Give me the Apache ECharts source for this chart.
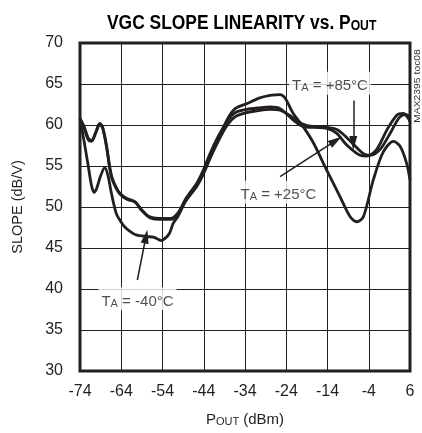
<!DOCTYPE html>
<html><head><meta charset="utf-8">
<script src="https://cdn.jsdelivr.net/npm/echarts@6/dist/echarts.min.js"></script>
<style>html,body{margin:0;padding:0;background:#fff}#c{width:422px;height:433px}</style>
</head><body><div id="c"></div>
<script>
// ---- data ----
const xTicks = [-74, -64, -54, -44, -34, -24, -14, -4, 6];
const yTicks = [30, 35, 40, 45, 50, 55, 60, 65, 70];

const pout25 = [-74, -73, -72, -71.2, -70.2, -69.2, -68.5, -67.6, -66.4, -64.8, -63.5, -62.4, -60.6, -59.1, -57.1, -55, -52, -50.2, -48.5, -45.7, -44.1, -42.5, -40.5, -38.4, -36.4, -33.6, -30.4, -27.9, -25.5, -22.3, -19.9, -17, -14.2, -11.8, -9.4, -6.1, -4.5, -2.1, 0.4, 2.8, 4.4, 5.6, 6];
const slope25 = [60.7, 59.6, 58.2, 58.0, 59.0, 60.1, 59.6, 57.4, 53.7, 51.9, 51.2, 50.9, 50.6, 49.6, 48.7, 48.5, 48.5, 49.2, 50.9, 52.9, 54.5, 56.5, 58.6, 60.4, 61.5, 61.9, 62.1, 62.2, 62.0, 60.6, 59.8, 59.7, 59.6, 59.0, 57.6, 56.3, 56.2, 57.0, 59.4, 61.2, 61.4, 60.8, 60.4];

const pout85 = [-74, -73, -72, -71.2, -70.2, -69.2, -68.5, -67.6, -66.4, -64.8, -63.5, -62.4, -60.6, -59.1, -57.1, -55, -52, -50.2, -48.5, -45.7, -44.1, -42.5, -40.5, -38.4, -36.4, -33.6, -30.4, -27.9, -25.5, -22.3, -19.9, -17, -14.2, -11.5, -9, -5.3, -3.7, -1.3, 1.2, 3.4, 5, 6];
const slope85 = [60.8, 59.8, 58.4, 58.1, 59.1, 60.2, 59.7, 57.6, 53.9, 52.0, 51.3, 51.0, 50.6, 49.7, 48.8, 48.6, 48.6, 49.3, 50.7, 52.5, 54.0, 55.9, 58.0, 59.9, 61.0, 61.5, 61.8, 61.9, 61.8, 60.9, 60.1, 59.8, 59.7, 59.4, 58.3, 56.5, 56.3, 57.0, 59.0, 60.9, 61.3, 61.0];

const poutM40 = [-74, -73, -72, -71.2, -70.6, -70, -69, -68, -67.2, -66.4, -65.2, -64.2, -63.2, -61.8, -60.4, -57.9, -56, -54.3, -53.3, -52.3, -51.4, -50.2, -48.5, -46, -44.1, -42.5, -40.5, -38.4, -36.4, -33.6, -30.4, -27.9, -25.5, -24.3, -22.3, -19.9, -17.4, -14.2, -11, -8.5, -6.9, -5.3, -2.9, -0.5, 2, 3.6, 5.2, 6];
const slopeM40 = [60.8, 58.0, 55.0, 52.6, 51.8, 52.2, 53.8, 54.8, 53.8, 51.7, 49.2, 48.3, 47.6, 47.0, 46.6, 46.4, 46.3, 45.9, 46.2, 46.8, 48.0, 48.9, 50.6, 52.4, 54.2, 56.0, 58.2, 60.6, 62.0, 62.6, 63.3, 63.6, 63.7, 63.3, 61.4, 59.8, 57.8, 54.5, 51.3, 48.8, 48.2, 48.8, 53.3, 56.7, 58.0, 57.4, 55.3, 53.3];

// annotation texts
const labelM40 = '-40°C';
const label25 = '+25°C';
const label85 = '+85°C';

// ---- chart ----
const FONT = '"Liberation Sans",Arial,sans-serif';
const INK = '#231f20';
const pairs = (xs, ys) => xs.map((x, i) => [x, ys[i]]);

const tRich = {
  t: {fontFamily: FONT, fontSize: 15, color: INK, lineHeight: 19, verticalAlign: 'bottom'},
  s: {fontFamily: FONT, fontSize: 11, color: INK, lineHeight: 13, verticalAlign: 'bottom'}
};
const taText = (temp) => '{t|T}{s|A}{t| = ' + temp + '}';

function curve(name, xs, ys) {
  return {
    name, type: 'line', data: pairs(xs, ys), showSymbol: false, symbol: 'none',
    smooth: 0.3, lineStyle: {color: INK, width: 2.8}, z: 3, silent: true
  };
}

const arrowLine = (from, to) => [{coord: from, symbol: 'none'}, {coord: to, symbol: 'triangle', symbolSize: [8, 14]}];

const option = {
  backgroundColor: '#fff',
  animation: false,
  grid: {left: 80, right: 12, top: 43, bottom: 62, show: true, borderColor: INK, borderWidth: 3, backgroundColor: 'transparent'},
  xAxis: {
    type: 'value', min: xTicks[0], max: xTicks[xTicks.length - 1], interval: 10,
    axisLine: {show: false}, axisTick: {show: false},
    splitLine: {show: true, lineStyle: {color: INK, width: 1}},
    axisLabel: {fontFamily: FONT, fontSize: 16, color: INK, margin: 13},
    name: '{t|P}{s|OUT}{t| (dBm)}', nameLocation: 'middle', nameGap: 37,
    nameTextStyle: {rich: tRich}
  },
  yAxis: {
    type: 'value', min: yTicks[0], max: yTicks[yTicks.length - 1], interval: 5,
    axisLine: {show: false}, axisTick: {show: false},
    splitLine: {show: true, lineStyle: {color: INK, width: 1}},
    axisLabel: {fontFamily: FONT, fontSize: 16, color: INK, margin: 17},
    name: 'SLOPE (dB/V)', nameLocation: 'middle', nameGap: 55,
    nameTextStyle: {fontFamily: FONT, fontSize: 14.5, color: INK}
  },
  series: [
    curve('+85°C', pout85, slope85),
    curve('+25°C', pout25, slope25),
    Object.assign(curve('-40°C', poutM40, slopeM40), {
      markLine: {
        silent: true, animation: false,
        label: {show: false},
        lineStyle: {color: INK, width: 1.5, type: 'solid'},
        data: [
          arrowLine([-60.1, 41.1], [-58.0, 46.4]),
          arrowLine([-7.75, 63.0], [-7.75, 57.8]),
          arrowLine([-25.5, 53.7], [-12.0, 58.1])
        ]
      }
    }),
    {
      type: 'scatter', symbolSize: 0, silent: true, z: 5,
      data: [
        {value: [-60.06, 38.8], t: labelM40},
        {value: [-13.4, 65.1], t: label85},
        {value: [-25.9, 51.8], t: label25}
      ],
      label: {
        show: true, position: 'inside', backgroundColor: '#fff', padding: [3, 3, 1, 3],
        formatter: (p) => taText(p.data.t), rich: tRich
      }
    }
  ],
  graphic: [
    {
      type: 'text', x: 107, y: 9, scaleX: 0.87,
      style: {
        text: '{m|VGC SLOPE LINEARITY vs. P}{o|OUT}',
        rich: {
          m: {fontFamily: FONT, fontSize: 20, fontWeight: 'bold', fill: '#000', color: '#000', lineHeight: 24, verticalAlign: 'bottom'},
          o: {fontFamily: FONT, fontSize: 14, fontWeight: 'bold', fill: '#000', color: '#000', lineHeight: 20, verticalAlign: 'bottom'}
        }
      }
    },
    {
      type: 'text', x: 418, y: 86, rotation: Math.PI / 2, scaleX: 1.15,
      style: {text: 'MAX2395 toc08', font: '9px "Liberation Sans", sans-serif', fill: '#333', textAlign: 'center', textVerticalAlign: 'middle'}
    }
  ]
};

const chart = echarts.init(document.getElementById('c'), null, {renderer: 'canvas'});
chart.setOption(option);
</script>
</body></html>
